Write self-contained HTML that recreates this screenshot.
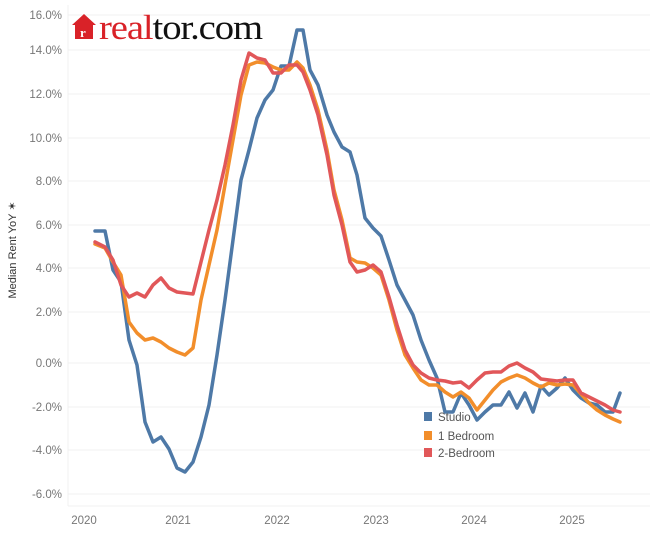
<!DOCTYPE html>
<html><head><meta charset="utf-8"><style>
body{margin:0;background:#fff;width:650px;height:532px;overflow:hidden;font-family:"Liberation Sans",sans-serif}
</style></head><body>
<svg width="650" height="532" xmlns="http://www.w3.org/2000/svg" font-family="Liberation Sans, sans-serif">
<g stroke="#f0f0f0" stroke-width="1">
<line x1="68" x2="650" y1="15" y2="15"/><line x1="68" x2="650" y1="50" y2="50"/>
<line x1="68" x2="650" y1="94" y2="94"/><line x1="68" x2="650" y1="138" y2="138"/>
<line x1="68" x2="650" y1="181" y2="181"/><line x1="68" x2="650" y1="225" y2="225"/>
<line x1="68" x2="650" y1="268" y2="268"/><line x1="68" x2="650" y1="312" y2="312"/>
<line x1="68" x2="650" y1="363" y2="363"/><line x1="68" x2="650" y1="407" y2="407"/>
<line x1="68" x2="650" y1="450" y2="450"/><line x1="68" x2="650" y1="494" y2="494"/>
<line x1="68" x2="650" y1="506" y2="506"/><line x1="68" x2="68" y1="5" y2="506"/>
</g>
<g fill="#777" font-size="11.5" text-anchor="end">
<text x="62" y="19">16.0%</text><text x="62" y="54">14.0%</text><text x="62" y="98">12.0%</text>
<text x="62" y="142">10.0%</text><text x="62" y="185">8.0%</text><text x="62" y="229">6.0%</text>
<text x="62" y="272">4.0%</text><text x="62" y="316">2.0%</text><text x="62" y="367">0.0%</text>
<text x="62" y="411">-2.0%</text><text x="62" y="454">-4.0%</text><text x="62" y="498">-6.0%</text>
</g>
<g fill="#777" font-size="11.5" text-anchor="middle">
<text x="84" y="524">2020</text><text x="178" y="524">2021</text><text x="277" y="524">2022</text>
<text x="376" y="524">2023</text><text x="474" y="524">2024</text><text x="572" y="524">2025</text>
</g>
<text transform="translate(16,250) rotate(-90)" font-size="11" fill="#333" text-anchor="middle">Median Rent YoY ✶</text>
<g fill="none" stroke-width="3.5" stroke-linejoin="round" stroke-linecap="round">
<polyline stroke="#4e79a7" points="95,231 105,231 113,270 121,282 129,340 137,365 145,422 153,442 161,437 169,449 177,468 185,472 193,462 201,437 209,405 217,355 225,300 233,240 241,180 249,150 257,118 265,100 273,90 281,66 289,66 297,30 303,30 310,70 318,85 327,115 334,132 342,147 350,152 357,175 365,218 373,228 381,236 389,260 397,285 405,300 413,315 421,340 429,360 437,378 445,412 453,412 461,393 469,405 477,420 485,412 493,405 501,405 509,392 517,408 525,393 533,412 541,386 549,395 557,388 565,378 573,390 581,398 589,403 597,405 605,412 613,412 620,393"/>
<polyline stroke="#f28e2b" points="95,244 105,248 113,262 121,275 129,322 137,333 145,340 153,338 161,342 169,348 177,352 185,355 193,348 201,300 209,265 217,230 225,185 233,140 241,95 249,65 257,62 265,63 273,67 281,70 289,70 297,62 303,68 310,85 318,110 327,150 334,190 342,220 350,258 357,262 365,263 373,268 381,275 389,300 397,330 405,355 413,368 421,380 429,385 437,385 445,392 453,397 461,392 469,398 477,410 485,400 493,390 501,382 509,378 517,375 525,378 533,383 541,387 549,383 557,385 565,384 573,385 581,394 589,403 597,410 605,415 613,419 620,422"/>
<polyline stroke="#e15759" points="95,242 105,247 113,260 121,285 129,297 137,293 145,297 153,285 161,278 169,288 177,292 185,293 193,294 201,262 209,230 217,200 225,165 233,125 241,80 249,53 257,58 265,60 273,73 281,73 289,65 297,65 303,72 310,90 318,115 327,155 334,195 342,225 350,262 357,272 365,270 373,265 381,272 389,297 397,325 405,350 413,365 421,373 429,378 437,380 445,381 453,383 461,382 469,388 477,380 485,373 493,372 501,372 509,366 517,363 525,368 533,372 541,379 549,380 557,381 565,380 573,380 581,393 589,397 597,401 605,405 613,410 620,412"/>
</g>
<g font-size="11.5" fill="#555">
<rect x="424" y="412" width="8" height="9" fill="#4e79a7"/><text x="438" y="421">Studio</text>
<rect x="424" y="431" width="8" height="9" fill="#f28e2b"/><text x="438" y="440">1 Bedroom</text>
<rect x="424" y="448" width="8" height="9" fill="#e15759"/><text x="438" y="457">2-Bedroom</text>
</g>
<g transform="translate(72,13)">
<path d="M0,12 L12,1 L24,12 L21,12 L21,26 L3,26 L3,12 Z" fill="#d92228"/>
<text x="8" y="24" font-size="13" fill="#fff" font-family="Liberation Serif,serif" font-weight="bold">r</text>
</g>
<text x="99" y="39" font-family="Liberation Serif, serif" font-size="35" fill="#d92228" letter-spacing="-1" textLength="163" lengthAdjust="spacingAndGlyphs">real<tspan fill="#111">tor.com</tspan></text>
</svg>
</body></html>
